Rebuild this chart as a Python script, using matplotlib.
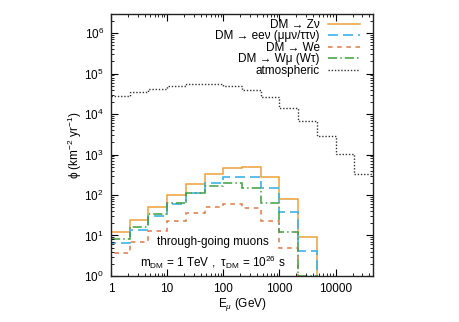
import matplotlib
matplotlib.use("Agg")
import matplotlib.pyplot as plt
import matplotlib.ticker as ticker

plt.rcParams['font.family'] = ['Liberation Sans', 'DejaVu Sans']
plt.rcParams['mathtext.fontset'] = 'custom'
plt.rcParams['mathtext.rm'] = 'Liberation Sans'
plt.rcParams['mathtext.it'] = 'Liberation Sans:italic'
plt.rcParams['font.size'] = 8.5

# bin edges in GeV (three bins per decade)
edges = [1, 2.154, 4.642, 10, 21.54, 46.42, 100, 215.4, 464.2,
         1000, 2154, 4642, 10000, 21544, 46416]

atm = [27700, 35000, 41500, 49000, 55000, 55000, 49000, 40000,
       25700, 14500, 6900, 2900, 1020, 325]
z_nu = [12, 24, 50, 99, 185, 327, 475, 485, 285, 79, 9.2]
eenu = [6.4, 14, 29.5, 61, 115, 203, 285, 285, 153, 39, 4.1]
w_e = [3.6, 6.8, 13, 23, 35.5, 50, 60, 49, 23, 5.0]
w_mu = [8.4, 16.5, 33.5, 63, 111, 170, 195, 147, 63, 12.5, 1.02]

xticks = [1, 10, 100, 1000, 10000]
yticks = [1, 10, 100, 1e3, 1e4, 1e5, 1e6]

labels = ['DM → Zν', 'DM → eeν (μμν/ττν)', 'DM → We',
          'DM → Wμ (Wτ)', 'atmospheric']

fig = plt.figure(figsize=(4.6, 3.22), dpi=100)
ax = fig.add_axes([0.241, 0.143, 0.570, 0.814])

ax.stairs(z_nu, edges[:len(z_nu) + 1], baseline=1e-3, color='#eea13a',
          lw=1.1, label=labels[0])
ax.stairs(eenu, edges[:len(eenu) + 1], baseline=1e-3, color='#3eb3e8',
          lw=1.2, ls=(0, (6, 3)), label=labels[1])
ax.stairs(w_e, edges[:len(w_e) + 1], baseline=1e-3, color='#dd7a45',
          lw=1.1, ls=(0, (3, 3)), label=labels[2])
ax.stairs(w_mu, edges[:len(w_mu) + 1], baseline=1e-3, color='#3f9f3f',
          lw=1.1, ls=(0, (6, 2, 1, 2)), label=labels[3])
ax.stairs(atm, edges, baseline=None, color='#333333',
          lw=1.0, ls=(0, (1, 1.3)), label=labels[4])

ax.set_xscale('log')
ax.set_yscale('log')
ax.set_xlim(1, 46416)
ax.set_ylim(1, 3e6)

ax.xaxis.set_major_locator(ticker.FixedLocator(xticks))
ax.xaxis.set_major_formatter(ticker.FixedFormatter([str(t) for t in xticks]))
ax.xaxis.set_minor_formatter(ticker.NullFormatter())
ax.yaxis.set_major_locator(ticker.FixedLocator(yticks))
ax.yaxis.set_major_formatter(ticker.LogFormatterSciNotation())
ax.yaxis.set_minor_formatter(ticker.NullFormatter())
ax.tick_params(which='both', direction='in', top=True, right=True)
ax.tick_params(which='major', length=5, pad=5)
ax.tick_params(which='minor', length=2.5)
for s in ax.spines.values():
    s.set_linewidth(1.0)
    s.set_color('#222222')

ax.set_xlabel('E$_{\\mu}$ (GeV)', labelpad=1)
ax.set_ylabel('ϕ (km$^{-2}$ yr$^{-1}$)', labelpad=0.5)

ax.text(0.39, 0.13, 'through-going muons', transform=ax.transAxes,
        ha='center', va='center')
ax.text(0.39, 0.053, 'm$_{\\mathrm{DM}}$ = 1 TeV ,  τ$_{\\mathrm{DM}}$ = 10$^{26}$ s',
        transform=ax.transAxes, ha='center', va='center')

ax.legend(loc='upper right', bbox_to_anchor=(0.95, 0.98), frameon=False,
          markerfirst=False, handlelength=2.7, labelspacing=-0.05,
          handletextpad=0.7, borderaxespad=0, borderpad=0, fontsize=8.5)

fig.savefig('out.png', dpi=100)
